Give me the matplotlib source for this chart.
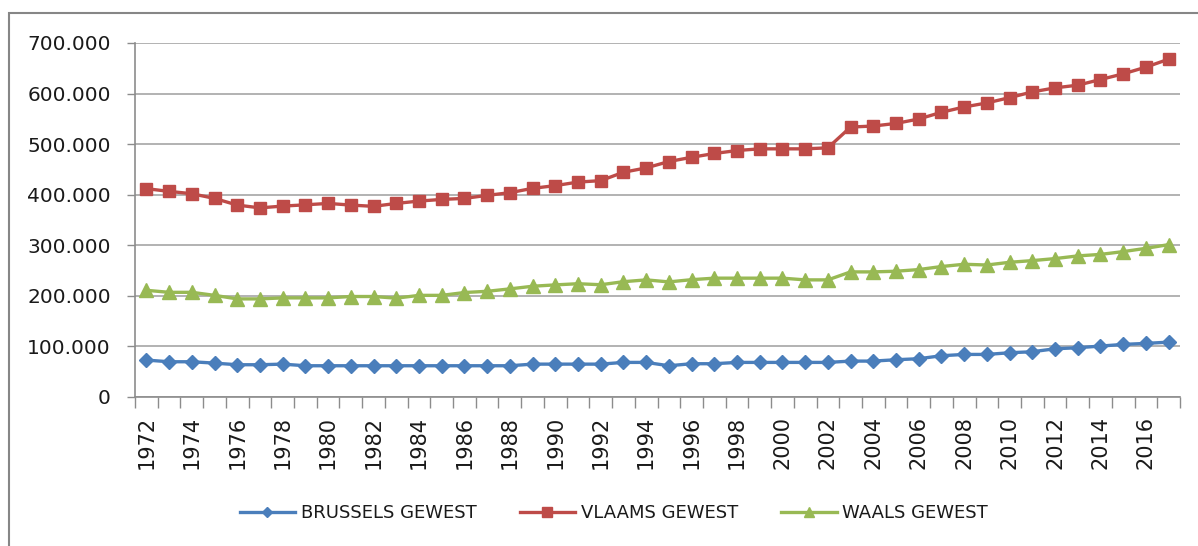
import matplotlib
matplotlib.use("Agg")
import matplotlib.pyplot as plt
from matplotlib.ticker import FuncFormatter, FixedLocator
from matplotlib.patches import Rectangle

years = list(range(1972, 2018))
brussels = [73, 69.7, 69.7, 67, 63.8, 63.8, 65, 61.8, 61.8, 61.8, 61.8, 61.8, 61.8, 61.8,
            61.8, 61.8, 61.8, 65, 65, 65, 65, 68.4, 68.4, 61.8, 65.8, 65.8, 68.4, 68.4,
            68.4, 68.4, 68.4, 71, 71, 73.7, 75.7, 81.6, 84.2, 84.2, 87.5, 89.5, 95.4,
            97.4, 100.7, 104, 106, 108.5]
vlaams = [412, 406.6, 402, 392.7, 379.5, 374, 377.5, 380, 382.8, 379.5, 377, 382.8,
          387.4, 390.7, 392.7, 398.7, 404, 412.6, 418, 425, 427.8, 444.4, 453, 465.6,
          474, 481.5, 487.4, 490.7, 490.7, 490.7, 492.7, 533.8, 535.8, 541, 549.7, 563,
          573.5, 581.5, 592, 603.3, 611.3, 616.6, 627.8, 639, 652.3, 668]
waals = [211, 207, 207, 201, 194, 194, 196, 196, 196, 198.7, 198.7, 195.4, 201, 201,
         206.6, 209, 213.8, 219, 221.7, 224, 222, 228, 231.6, 227.6, 232, 235, 235, 235,
         235, 231.6, 231.6, 247.4, 247.4, 248.7, 252, 258, 262.5, 261, 266.4, 269.7,
         273.7, 279, 282, 287.5, 294, 301.3]
series_names = ["BRUSSELS GEWEST", "VLAAMS GEWEST", "WAALS GEWEST"]
colors = ["#4A7EBB", "#BE4B48", "#98B954"]

plt.rcParams['font.family'] = ['DejaVu Sans Condensed', 'DejaVu Sans']
plt.rcParams['text.color'] = '#1A1A1A'
fig = plt.figure(figsize=(11.98, 5.46), dpi=100)
W, H = 1198, 546
ax = fig.add_axes([135 / W, (H - 397) / H, (1180 - 135) / W, (397 - 43) / H])

# outer chart border (cropped on right/bottom)
fig.patches.append(Rectangle((9 / W, -0.1), 1.2, (H - 13) / H + 0.1, transform=fig.transFigure,
                             fill=False, edgecolor="#868686", linewidth=1.5))

xs = list(range(len(years)))
vals = [[v * 1000 for v in s] for s in (brussels, vlaams, waals)]
markers = ["D", "s", "^"]
msizes = [7.5, 9, 9.5]
for v, name, c, m, ms in zip(vals, series_names, colors, markers, msizes):
    ax.plot(xs, v, color=c, linewidth=2.4, marker=m, markersize=ms, label=name,
            markeredgecolor=c)

ax.set_xlim(-0.5, len(years) - 0.5)
ax.set_ylim(0, 700000)
ax.set_yticks(range(0, 700001, 100000))
ax.yaxis.set_major_formatter(FuncFormatter(lambda v, p: "0" if v == 0 else f"{int(v):,}".replace(",", ".")))
ax.grid(axis="y", color="#A6A6A6", linewidth=1.2)
ax.set_axisbelow(True)

ax.set_xticks(xs[::2])
ax.set_xticklabels([str(y) for y in years[::2]], rotation=90)
ax.xaxis.set_minor_locator(FixedLocator([i - 0.5 for i in range(len(years) + 1)]))
ax.tick_params(axis="x", which="major", length=0, pad=13.5, labelsize=15, labelcolor="#1A1A1A")
ax.tick_params(axis="x", which="minor", length=8, color="#8C8C8C", width=1)
ax.tick_params(axis="y", length=6, color="#8C8C8C", width=1, labelsize=14.5, pad=11.5,
               labelcolor="#1A1A1A")

for s in ["top", "right"]:
    ax.spines[s].set_visible(False)
for s in ["left", "bottom"]:
    ax.spines[s].set_color("#8C8C8C")
    ax.spines[s].set_linewidth(1.2)

leg = fig.legend(loc="center", bbox_to_anchor=(614 / W, (H - 513) / H), ncol=3, frameon=False,
                 handlelength=3.05, columnspacing=2.4, handletextpad=0.33,
                 prop={'family': ['DejaVu Sans Condensed', 'DejaVu Sans'], 'size': 13})
for h, ms in zip(leg.legend_handles, [5, 7, 7]):
    h.set_markersize(ms)

fig.savefig("out.png", dpi=100)
